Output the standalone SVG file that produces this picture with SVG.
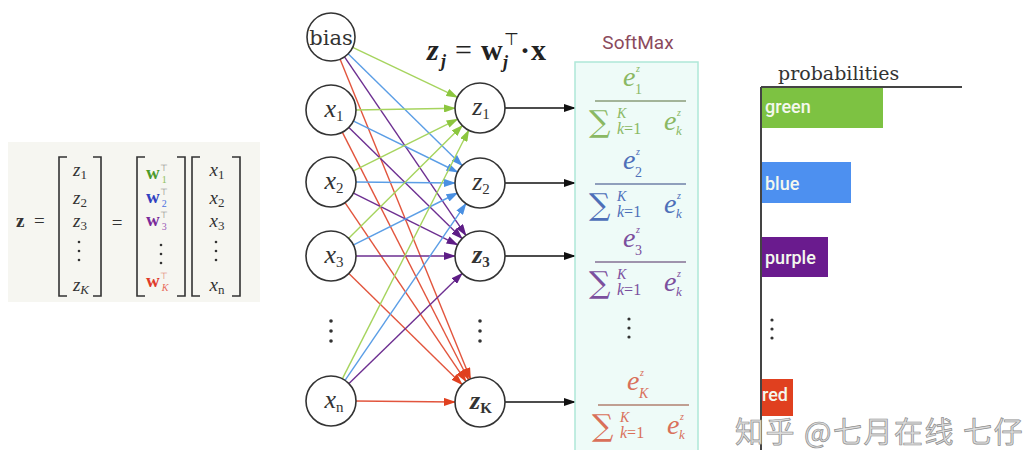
<svg xmlns="http://www.w3.org/2000/svg" width="1036" height="450" viewBox="0 0 1036 450">
<style>
.node{fill:#fff;stroke:#333;stroke-width:1.6}
.mi{font-family:"Liberation Serif",serif;font-style:italic;font-size:26px;fill:#333}
.sub{font-style:normal;font-size:15px}
.mat{font-family:"Liberation Serif",serif;font-size:19px;fill:#333}
.brk{fill:none;stroke:#333;stroke-width:1.6}
.dot{fill:#333}
.cg{stroke:#a6d45e}.cb{stroke:#5b9ee6}.cp{stroke:#6d2f91}.cr{stroke:#e2553d}
.conn line{stroke-width:1.4;fill:none}
.blk{stroke:#111;stroke-width:1.6}
.lab{font-family:Roboto,"Liberation Sans",sans-serif;font-size:18px;font-weight:500;fill:#f4f8ee}
.fr{font-family:"Liberation Serif",serif;font-style:italic}
.sg{font-family:"DejaVu Serif",serif;font-size:30px}
</style>
<defs>
<marker id="ag" viewBox="0 0 12 8" refX="11" refY="4" markerWidth="12" markerHeight="8" markerUnits="userSpaceOnUse" orient="auto"><path d="M0,0 L12,4 L0,8 z" fill="#8cc63f"/></marker>
<marker id="ab" viewBox="0 0 12 8" refX="11" refY="4" markerWidth="12" markerHeight="8" markerUnits="userSpaceOnUse" orient="auto"><path d="M0,0 L12,4 L0,8 z" fill="#4a90e2"/></marker>
<marker id="ap" viewBox="0 0 12 8" refX="11" refY="4" markerWidth="12" markerHeight="8" markerUnits="userSpaceOnUse" orient="auto"><path d="M0,0 L12,4 L0,8 z" fill="#5e1d86"/></marker>
<marker id="ar" viewBox="0 0 12 8" refX="11" refY="4" markerWidth="12" markerHeight="8" markerUnits="userSpaceOnUse" orient="auto"><path d="M0,0 L12,4 L0,8 z" fill="#e0401f"/></marker>
<marker id="ak" viewBox="0 0 12 8" refX="11" refY="4" markerWidth="12" markerHeight="8" markerUnits="userSpaceOnUse" orient="auto"><path d="M0,0 L12,4 L0,8 z" fill="#111"/></marker>
</defs>
<rect width="1036" height="450" fill="#fff"/>

<!-- left matrix equation -->
<g id="matrix-eq">
<rect x="8" y="142" width="252" height="160" fill="#f6f6f1"/>
<text x="16" y="227" class="mat" font-weight="bold" font-size="20">z</text>
<text x="34" y="227" class="mat" font-size="20">=</text>
<path class="brk" d="M67,157 H59 V296 H67 M93,157 H101 V296 H93"/>
<g class="mat" font-style="italic" text-anchor="middle">
<text x="80" y="176">z<tspan font-style="normal" font-size="13" dy="3">1</tspan></text>
<text x="80" y="204">z<tspan font-style="normal" font-size="13" dy="3">2</tspan></text>
<text x="80" y="227">z<tspan font-style="normal" font-size="13" dy="3">3</tspan></text>
<text x="81" y="291">z<tspan font-size="13" dy="3">K</tspan></text>
</g>
<circle class="dot" cx="79" cy="242" r="1.3"/><circle class="dot" cx="79" cy="251" r="1.3"/><circle class="dot" cx="79" cy="260" r="1.3"/>
<text x="117" y="229" class="mat" font-size="20" text-anchor="middle">=</text>
<path class="brk" d="M145,157 H137 V296 H145 M177,157 H185 V296 H177"/>
<g class="mat" font-weight="bold" font-size="18">
<text x="146" y="179" fill="#4c9a2a">w<tspan font-weight="normal" font-size="9" dy="-8" fill="#888">⊤</tspan><tspan font-weight="normal" font-size="10" dx="-6" dy="12" fill="#8fbf5a">1</tspan></text>
<text x="146" y="203" fill="#3040c0">w<tspan font-weight="normal" font-size="9" dy="-8" fill="#888">⊤</tspan><tspan font-weight="normal" font-size="10" dx="-6" dy="12" fill="#4a6fe0">2</tspan></text>
<text x="146" y="226" fill="#7a2a9a">w<tspan font-weight="normal" font-size="9" dy="-8" fill="#888">⊤</tspan><tspan font-weight="normal" font-size="10" dx="-6" dy="12" fill="#9a5ab8">3</tspan></text>
<text x="146" y="287" fill="#e03a2a">w<tspan font-weight="normal" font-size="9" dy="-8" fill="#e07a6a">⊤</tspan><tspan font-weight="normal" font-style="italic" font-size="10" dx="-6" dy="12" fill="#e86a5a">K</tspan></text>
</g>
<circle class="dot" cx="161" cy="245" r="1.3"/><circle class="dot" cx="161" cy="254" r="1.3"/><circle class="dot" cx="161" cy="263" r="1.3"/>
<path class="brk" d="M200,157 H192 V296 H200 M232,157 H240 V296 H232"/>
<g class="mat" font-style="italic" text-anchor="middle">
<text x="217" y="176">x<tspan font-style="normal" font-size="13" dy="3">1</tspan></text>
<text x="217" y="204">x<tspan font-style="normal" font-size="13" dy="3">2</tspan></text>
<text x="217" y="227">x<tspan font-style="normal" font-size="13" dy="3">3</tspan></text>
<text x="217" y="291">x<tspan font-style="normal" font-size="13" dy="3">n</tspan></text>
</g>
<circle class="dot" cx="216" cy="242" r="1.3"/><circle class="dot" cx="216" cy="251" r="1.3"/><circle class="dot" cx="216" cy="260" r="1.3"/>
</g>

<!-- connectors -->
<g id="connectors" class="conn">
<line class="cg" x1="352.7" y1="47.3" x2="457.4" y2="97.2" marker-end="url(#ag)"/>
<line class="cb" x1="348.1" y1="53.8" x2="462.1" y2="165.5" marker-end="url(#ab)"/>
<line class="cp" x1="344.5" y1="56.8" x2="465.9" y2="235.3" marker-end="url(#ap)"/>
<line class="cr" x1="340.1" y1="59.2" x2="470.5" y2="378.9" marker-end="url(#ar)"/>

<line class="cg" x1="355" y1="110" x2="455" y2="108.3" marker-end="url(#ag)"/>
<line class="cb" x1="352.6" y1="120.6" x2="457.5" y2="172" marker-end="url(#ab)"/>
<line class="cp" x1="348.1" y1="126.8" x2="462.1" y2="238.5" marker-end="url(#ap)"/>
<line class="cr" x1="341.9" y1="131.4" x2="468.6" y2="379.7" marker-end="url(#ar)"/>

<line class="cg" x1="352.5" y1="171.3" x2="457.6" y2="119.1" marker-end="url(#ag)"/>
<line class="cb" x1="355" y1="182" x2="455" y2="183" marker-end="url(#ab)"/>
<line class="cp" x1="352.5" y1="192.7" x2="457.6" y2="244.9" marker-end="url(#ap)"/>
<line class="cr" x1="344.5" y1="201.9" x2="466" y2="381.3" marker-end="url(#ar)"/>

<line class="cg" x1="348" y1="239.1" x2="462.3" y2="125.6" marker-end="url(#ag)"/>
<line class="cb" x1="352.6" y1="245.4" x2="457.5" y2="193" marker-end="url(#ab)"/>
<line class="cp" x1="355" y1="256" x2="455" y2="256" marker-end="url(#ap)"/>
<line class="cr" x1="348.1" y1="272.8" x2="462.1" y2="384.5" marker-end="url(#ar)"/>

<line class="cg" x1="341.9" y1="379.6" x2="468.7" y2="130.3" marker-end="url(#ag)"/>
<line class="cb" x1="344.5" y1="381.2" x2="465.9" y2="203.6" marker-end="url(#ab)"/>
<line class="cp" x1="348.2" y1="384.3" x2="462.1" y2="273.4" marker-end="url(#ap)"/>
<line class="cr" x1="355" y1="401" x2="455" y2="402" marker-end="url(#ar)"/>

<line class="blk" x1="505" y1="108" x2="575" y2="108" marker-end="url(#ak)"/>
<line class="blk" x1="505" y1="183" x2="575" y2="183" marker-end="url(#ak)"/>
<line class="blk" x1="505" y1="256" x2="575" y2="256" marker-end="url(#ak)"/>
<line class="blk" x1="505" y1="402" x2="575" y2="402" marker-end="url(#ak)"/>
</g>

<!-- input nodes -->
<g id="bias"><circle class="node" cx="331" cy="37" r="24"/><text x="331" y="45" font-family="DejaVu Serif,serif" font-size="21" fill="#333" text-anchor="middle">bias</text></g>
<g id="x1"><circle class="node" cx="331" cy="110" r="25"/><text x="334" y="117" class="mi" text-anchor="middle">x<tspan class="sub" dy="4">1</tspan></text></g>
<g id="x2"><circle class="node" cx="331" cy="182" r="25"/><text x="334" y="189" class="mi" text-anchor="middle">x<tspan class="sub" dy="4">2</tspan></text></g>
<g id="x3"><circle class="node" cx="331" cy="256" r="25"/><text x="334" y="263" class="mi" text-anchor="middle">x<tspan class="sub" dy="4">3</tspan></text></g>
<g id="in-dots"><circle class="dot" cx="331" cy="321" r="1.8"/><circle class="dot" cx="331" cy="331" r="1.8"/><circle class="dot" cx="331" cy="341" r="1.8"/></g>
<g id="xn"><circle class="node" cx="331" cy="401" r="25"/><text x="334" y="408" class="mi" text-anchor="middle">x<tspan class="sub" font-style="italic" dy="4">n</tspan></text></g>

<!-- output nodes -->
<g id="z1"><circle class="node" cx="480" cy="108" r="25"/><text x="481" y="115" class="mi" fill="#8bc34a" text-anchor="middle">z<tspan class="sub" dy="4">1</tspan></text></g>
<g id="z2"><circle class="node" cx="480" cy="183" r="25"/><text x="481" y="190" class="mi" fill="#5b9ee6" text-anchor="middle">z<tspan class="sub" dy="4">2</tspan></text></g>
<g id="z3"><circle class="node" cx="480" cy="256" r="25"/><text x="481" y="263" class="mi" fill="#6a2c91" font-weight="bold" text-anchor="middle">z<tspan class="sub" dy="4">3</tspan></text></g>
<g id="out-dots"><circle class="dot" cx="480" cy="321" r="1.8"/><circle class="dot" cx="480" cy="331" r="1.8"/><circle class="dot" cx="480" cy="341" r="1.8"/></g>
<g id="zK"><circle class="node" cx="480" cy="402" r="25"/><text x="481" y="409" class="mi" fill="#e0533a" font-weight="bold" text-anchor="middle">z<tspan class="sub" font-style="italic" dy="4">K</tspan></text></g>

<!-- formula -->
<g id="formula" font-family="Liberation Serif,serif" fill="#222">
<text x="427" y="60" font-size="30" font-style="italic" font-weight="bold">z</text>
<text x="441" y="67" font-size="18" font-style="italic" font-weight="bold">j</text>
<text x="455" y="60" font-size="30">=</text>
<text x="481" y="60" font-size="30" font-weight="bold">w</text>
<text x="504" y="45" font-size="17">⊤</text>
<text x="503" y="68" font-size="18" font-style="italic" font-weight="bold">j</text>
<text x="520" y="60" font-size="30" font-weight="bold">·</text>
<text x="531" y="60" font-size="30" font-weight="bold">x</text>
</g>

<!-- softmax -->
<g id="softmax">
<text x="638" y="49" font-family="Roboto,Liberation Sans,sans-serif" font-size="19" fill="#8b4a5c" text-anchor="middle">SoftMax</text>
<rect x="575" y="62" width="123" height="400" fill="#eefbf8" stroke="#aee8d8" stroke-width="1.5"/>
<g transform="translate(0,101)" fill="#8ab863">
<text class="fr" x="623" y="-15" font-size="28">e</text><text class="fr" x="636" y="-29" font-size="10">z</text><text x="635" y="-7" font-size="14" font-family="Liberation Serif,serif">1</text>
<line x1="595" y1="0" x2="686" y2="0" stroke="#8a9c7a" stroke-width="1.5"/>
<text x="589" y="31" class="sg">∑</text><text class="fr" x="617" y="17" font-size="14">K</text><text class="fr" x="617" y="33" font-size="16">k<tspan font-style="normal">=1</tspan></text>
<text class="fr" x="664" y="29" font-size="28">e</text><text class="fr" x="677" y="15" font-size="10">z</text><text class="fr" x="676" y="34" font-size="13">k</text>
</g>
<g transform="translate(0,184)" fill="#4d6fb8">
<text class="fr" x="623" y="-15" font-size="28">e</text><text class="fr" x="636" y="-29" font-size="10">z</text><text x="635" y="-7" font-size="14" font-family="Liberation Serif,serif">2</text>
<line x1="595" y1="0" x2="686" y2="0" stroke="#6f80a8" stroke-width="1.5"/>
<text x="589" y="31" class="sg">∑</text><text class="fr" x="617" y="17" font-size="14">K</text><text class="fr" x="617" y="33" font-size="16">k<tspan font-style="normal">=1</tspan></text>
<text class="fr" x="664" y="29" font-size="28">e</text><text class="fr" x="677" y="15" font-size="10">z</text><text class="fr" x="676" y="34" font-size="13">k</text>
</g>
<g transform="translate(0,262)" fill="#7b4f9e">
<text class="fr" x="623" y="-15" font-size="28">e</text><text class="fr" x="636" y="-29" font-size="10">z</text><text x="635" y="-7" font-size="14" font-family="Liberation Serif,serif">3</text>
<line x1="595" y1="0" x2="686" y2="0" stroke="#857094" stroke-width="1.5"/>
<text x="589" y="31" class="sg">∑</text><text class="fr" x="617" y="17" font-size="14">K</text><text class="fr" x="617" y="33" font-size="16">k<tspan font-style="normal">=1</tspan></text>
<text class="fr" x="664" y="29" font-size="28">e</text><text class="fr" x="677" y="15" font-size="10">z</text><text class="fr" x="676" y="34" font-size="13">k</text>
</g>
<circle class="dot" cx="629" cy="319" r="1.6"/><circle class="dot" cx="629" cy="328" r="1.6"/><circle class="dot" cx="629" cy="337" r="1.6"/>
<g transform="translate(0,405)" fill="#d9705a">
<text class="fr" x="627" y="-15" font-size="28">e</text><text class="fr" x="640" y="-29" font-size="10">z</text><text class="fr" x="639" y="-7" font-size="14">K</text>
<line x1="598" y1="0" x2="689" y2="0" stroke="#b08070" stroke-width="1.5"/>
<text x="592" y="31" class="sg">∑</text><text class="fr" x="620" y="17" font-size="14">K</text><text class="fr" x="620" y="33" font-size="16">k<tspan font-style="normal">=1</tspan></text>
<text class="fr" x="667" y="29" font-size="28">e</text><text class="fr" x="680" y="15" font-size="10">z</text><text class="fr" x="679" y="34" font-size="13">k</text>
</g>
</g>

<!-- probabilities -->
<g id="probabilities">
<text x="778" y="80" font-family="DejaVu Serif,serif" font-size="19" fill="#333">probabilities</text>
<rect x="762" y="88" width="121" height="40" fill="#7dc242"/>
<rect x="762" y="162" width="89" height="41" fill="#4d90f0"/>
<rect x="762" y="237" width="66" height="40" fill="#6a1b8e"/>
<rect x="760" y="379" width="33" height="37" fill="#e0401f"/>
<path d="M761,87 H962 M761,87 V450" fill="none" stroke="#444" stroke-width="2"/>
<text x="765" y="113" class="lab">green</text>
<text x="765" y="190" class="lab">blue</text>
<text x="765" y="264" class="lab">purple</text>
<text x="762" y="401" class="lab">red</text>
<circle class="dot" cx="772" cy="320" r="1.6"/><circle class="dot" cx="772" cy="329" r="1.6"/><circle class="dot" cx="772" cy="338" r="1.6"/>
</g>

<!-- watermark -->
<text x="735" y="443" font-family="Noto Sans CJK SC,sans-serif" font-size="29" letter-spacing="1.5" fill="#dcdcdc" stroke="#8c8c8c" stroke-width="0.7">知乎 @七月在线 七仔</text>
</svg>
